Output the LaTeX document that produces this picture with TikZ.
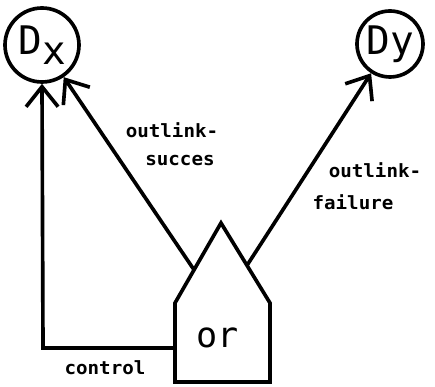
\documentclass[tikz,border=0pt]{standalone}
\usepackage{fontspec}
\setmonofont{DejaVu Sans Mono}
\newfontfamily\lblfont[FakeStretch=1.05]{DejaVu Sans Mono}
\usetikzlibrary{arrows.meta}

\begin{document}
\begin{tikzpicture}[
		line width=2.6pt,
		dset/.style={circle, draw, inner sep=0pt, font=\ttfamily\fontsize{28}{28}\selectfont},
		lbl/.style={font=\lblfont\bfseries\fontsize{13}{13}\selectfont, inner sep=0pt},
		link/.style={-{Straight Barb[length=5mm,width=8mm]}}
	]
		\useasboundingbox (0,0) rectangle (10.875,9.675);
		\node[dset, minimum size=1.85cm] (dx) at (1.05,8.55) {D\raisebox{-7pt}{x}};
		\node[dset, minimum size=1.65cm] (dy) at (9.75,8.575) {Dy};
		
		\coordinate (roofl) at (4.85,2.93);
		\coordinate (roofr) at (6.175,3.04);
		\coordinate (ctrl) at (4.375,0.975);
		\coordinate (corner) at (1.075,0.975);
		\draw (4.375,0.125) -- (4.375,2.1) -- (5.525,4.1) -- (6.75,2.1) -- (6.75,0.125) -- cycle;
		\node[font=\ttfamily\fontsize{25}{25}\selectfont] (or) at (5.45,1.225) {or};
		
		\draw[link] (roofl) -- (dx);
		\draw[link] (roofr) -- (dy);
		\draw[link] (ctrl) -- (corner) -- (dx.south);
		
		\node[lbl] (succ1) at (4.3,6.425) {outlink-};
		\node[lbl] (succ2) at (4.5,5.65) {succes};
		\node[lbl] (fail1) at (9.375,5.425) {outlink-};
		\node[lbl] (fail2) at (8.825,4.625) {failure};
		\node[lbl] (ctl) at (2.625,0.475) {control};
	\end{tikzpicture}
\end{document}
